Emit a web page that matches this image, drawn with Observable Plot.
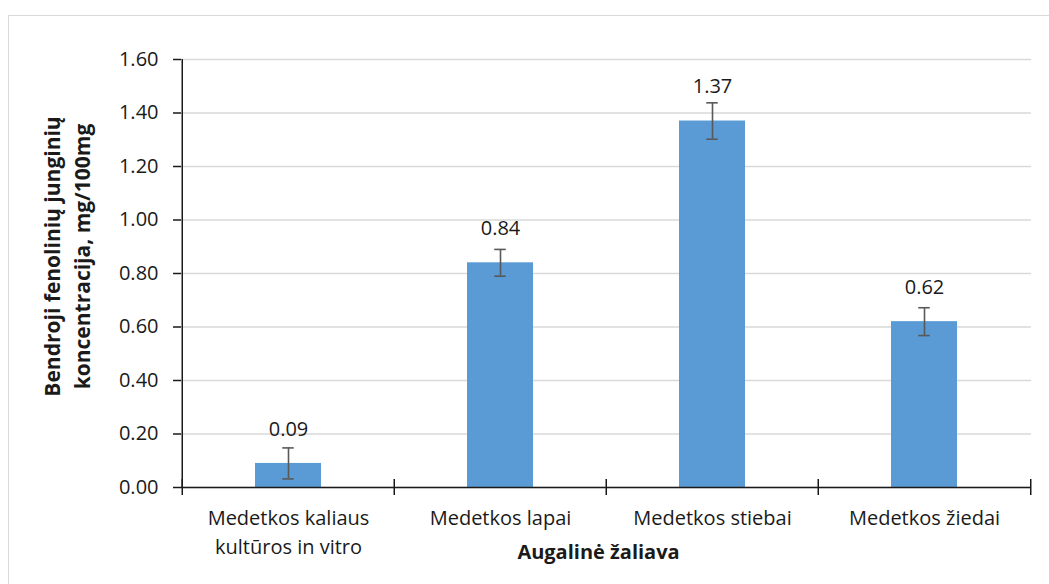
<!DOCTYPE html>
<html>
<head>
<meta charset="utf-8">
<script src="https://cdn.jsdelivr.net/npm/d3@7"></script>
<script src="https://cdn.jsdelivr.net/npm/@observablehq/plot@0.6"></script>
<style>
  html, body { margin: 0; padding: 0; background: #fff; }
  #wrap { position: relative; width: 1049px; height: 584px; overflow: hidden; font-family: "Open Sans", sans-serif; }
  #border { position: absolute; left: 8px; top: 15px; width: 1100px; height: 700px; border: 1.5px solid #d9d9d9; box-sizing: border-box; }
  #chart { position: absolute; left: 0; top: 0; }
</style>
</head>
<body>
<div id="wrap"><div id="border"></div><div id="chart"></div></div>
<script>
const categories = ["Medetkos kaliaus\nkultūros in vitro", "Medetkos lapai", "Medetkos stiebai", "Medetkos žiedai"];
const values = [0.09, 0.84, 1.37, 0.62];
const errors = [0.058, 0.05, 0.068, 0.052];
const labels = ["0.09", "0.84", "1.37", "0.62"];
const yTicks = [0, 0.2, 0.4, 0.6, 0.8, 1.0, 1.2, 1.4, 1.6];
const yTitle = "Bendroji fenolinių junginių\nkoncentracija, mg/100mg";
const xTitle = "Augalinė žaliava";

const data = categories.map((c, i) => ({cat: c, v: values[i], e: errors[i], label: labels[i]}));

const W = 1049, H = 584;
const mL = 181, mR = 18, mT = 59, mB = 97;
const step = (W - mL - mR) / categories.length;
const padInner = 0.687;
const bw = step * (1 - padInner);
const capHalf = 6;
const font = "'Open Sans', sans-serif";

const plot = Plot.plot({
  width: W, height: H,
  marginLeft: mL, marginRight: mR, marginTop: mT, marginBottom: mB,
  style: {fontFamily: font, fontSize: "20px", color: "#1a1a1a", background: "transparent"},
  x: {domain: categories, paddingInner: padInner, paddingOuter: padInner / 2, label: null},
  y: {domain: [0, 1.6], label: null},
  marks: [
    Plot.gridY(yTicks, {stroke: "#d9d9d9", strokeOpacity: 1, strokeWidth: 1.5}),
    Plot.barY(data, {x: "cat", y: "v", fill: "#5b9bd5"}),
    Plot.ruleX(data, {x: "cat", y1: d => d.v - d.e, y2: d => d.v + d.e, stroke: "#595959", strokeWidth: 1.6}),
    Plot.tickY(data, {x: "cat", y: d => d.v - d.e, stroke: "#595959", strokeWidth: 1.6, insetLeft: bw / 2 - capHalf, insetRight: bw / 2 - capHalf}),
    Plot.tickY(data, {x: "cat", y: d => d.v + d.e, stroke: "#595959", strokeWidth: 1.6, insetLeft: bw / 2 - capHalf, insetRight: bw / 2 - capHalf}),
    Plot.text(data, {x: "cat", y: "v", text: "label", dy: -34, fontSize: 20, fill: "#1a1a1a"}),
    Plot.ruleY([0], {stroke: "#1a1a1a", strokeWidth: 1.5}),
    // y axis line
    Plot.ruleX([categories[0]], {y1: 0, y2: 1.6, dx: -step / 2, stroke: "#1a1a1a", strokeWidth: 1.5}),
    // category boundary ticks on x axis
    Plot.ruleX(categories, {y: 0, dx: -step / 2, insetTop: -8, insetBottom: -8, stroke: "#1a1a1a", strokeWidth: 1.5}),
    Plot.ruleX([categories[categories.length - 1]], {y: 0, dx: step / 2, insetTop: -8, insetBottom: -8, stroke: "#1a1a1a", strokeWidth: 1.5}),
    Plot.axisY({ticks: yTicks, tickFormat: d3.format(".2f"), tickSize: 8, tickPadding: 15, stroke: "#1a1a1a", strokeWidth: 1.5, fontSize: 20, label: null}),
    Plot.axisX({tickSize: 0, tickPadding: 17, fontSize: 20, lineHeight: 1.45, lineAnchor: "top", label: null}),
    Plot.text([yTitle], {frameAnchor: "left", textAnchor: "middle", rotate: -90, dx: -116, dy: -17, fontSize: 21, fontWeight: "bold", lineHeight: 1.45, fill: "#1a1a1a"}),
    Plot.text([xTitle], {frameAnchor: "bottom", dx: -8, dy: 71, fontSize: 20, fontWeight: "bold", fill: "#1a1a1a"})
  ]
});
document.getElementById("chart").appendChild(plot);
</script>
</body>
</html>
